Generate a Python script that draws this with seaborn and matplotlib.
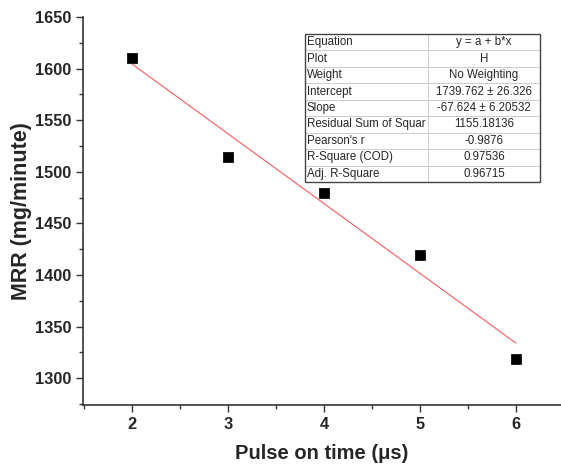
import numpy as np
import pandas as pd
import matplotlib
matplotlib.use("Agg")
import matplotlib.pyplot as plt
import seaborn as sns

pulse_on = [2, 3, 4, 5, 6]
mrr = [1610, 1514, 1479, 1419, 1319]

intercept = 1739.762
slope = -67.624

table_labels = ["Equation", "Plot", "Weight", "Intercept", "Slope",
                "Residual Sum of Squar", "Pearson's r", "R-Square (COD)",
                "Adj. R-Square"]
table_values = ["y = a + b*x", "H", "No Weighting", "1739.762 \u00b1 26.326",
                "-67.624 \u00b1 6.20532", "1155.18136", "-0.9876", "0.97536",
                "0.96715"]

df = pd.DataFrame({"Pulse on time": pulse_on, "MRR": mrr})

sns.set_style("ticks")
plt.rcParams['font.family'] = ['Liberation Sans', 'DejaVu Sans']

fig = plt.figure(figsize=(5.61, 4.69), dpi=100)
ax = fig.add_axes([83 / 561, 64 / 469, 478 / 561, 388 / 469])

# fitted line
fit_x = np.array([pulse_on[0], pulse_on[-1]])
sns.lineplot(x=fit_x, y=intercept + slope * fit_x, ax=ax, color="#ff5a5a",
             linewidth=0.8)
sns.scatterplot(data=df, x="Pulse on time", y="MRR", ax=ax, marker="s",
                s=46, color="black", edgecolor="black", zorder=3)

ax.set_xlim(1.49, 6.47)
ax.set_ylim(1274, 1650)
ax.set_xticks([2, 3, 4, 5, 6])
ax.set_xticks(np.arange(1.5, 6.5, 0.5), minor=True)
ax.set_yticks(np.arange(1300, 1651, 50))
ax.set_yticks(np.arange(1275, 1651, 25), minor=True)
ax.tick_params(which="major", length=5, width=1, labelsize=11.8, color="#333333")
ax.tick_params(which="minor", length=3, width=1, color="#333333")
for lab in ax.get_xticklabels() + ax.get_yticklabels():
    lab.set_fontweight("bold")

ax.set_xlabel("Pulse on time (\u03bcs)", fontsize=14.5, fontweight="bold", labelpad=9)
ax.set_ylabel("MRR (mg/minute)", fontsize=15.5, fontweight="bold")
ax.yaxis.set_label_coords(-0.107, 0.5)

sns.despine(ax=ax)
for sp in ["left", "bottom"]:
    ax.spines[sp].set_linewidth(1.2)
    ax.spines[sp].set_color("#333333")

cells = [[a, b] for a, b in zip(table_labels, table_values)]
tab = ax.table(cellText=cells, colWidths=[0.523, 0.477],
               bbox=[222 / 478, 223 / 388, 235 / 478, 148 / 388])
tab.auto_set_font_size(False)
tab.set_fontsize(8.3)
for (r, c), cell in tab.get_celld().items():
    cell.set_edgecolor("#c8c8c8")
    cell.set_linewidth(0.6)
    cell.set_text_props(ha="left" if c == 0 else "center")
    if c == 0:
        cell.PAD = 0.015
# outer border darker
ax.add_patch(plt.Rectangle((222 / 478, 223 / 388), 235 / 478, 148 / 388,
                           transform=ax.transAxes, fill=False,
                           edgecolor="#444444", linewidth=1.0, zorder=5))

fig.savefig("out.png", dpi=100)
